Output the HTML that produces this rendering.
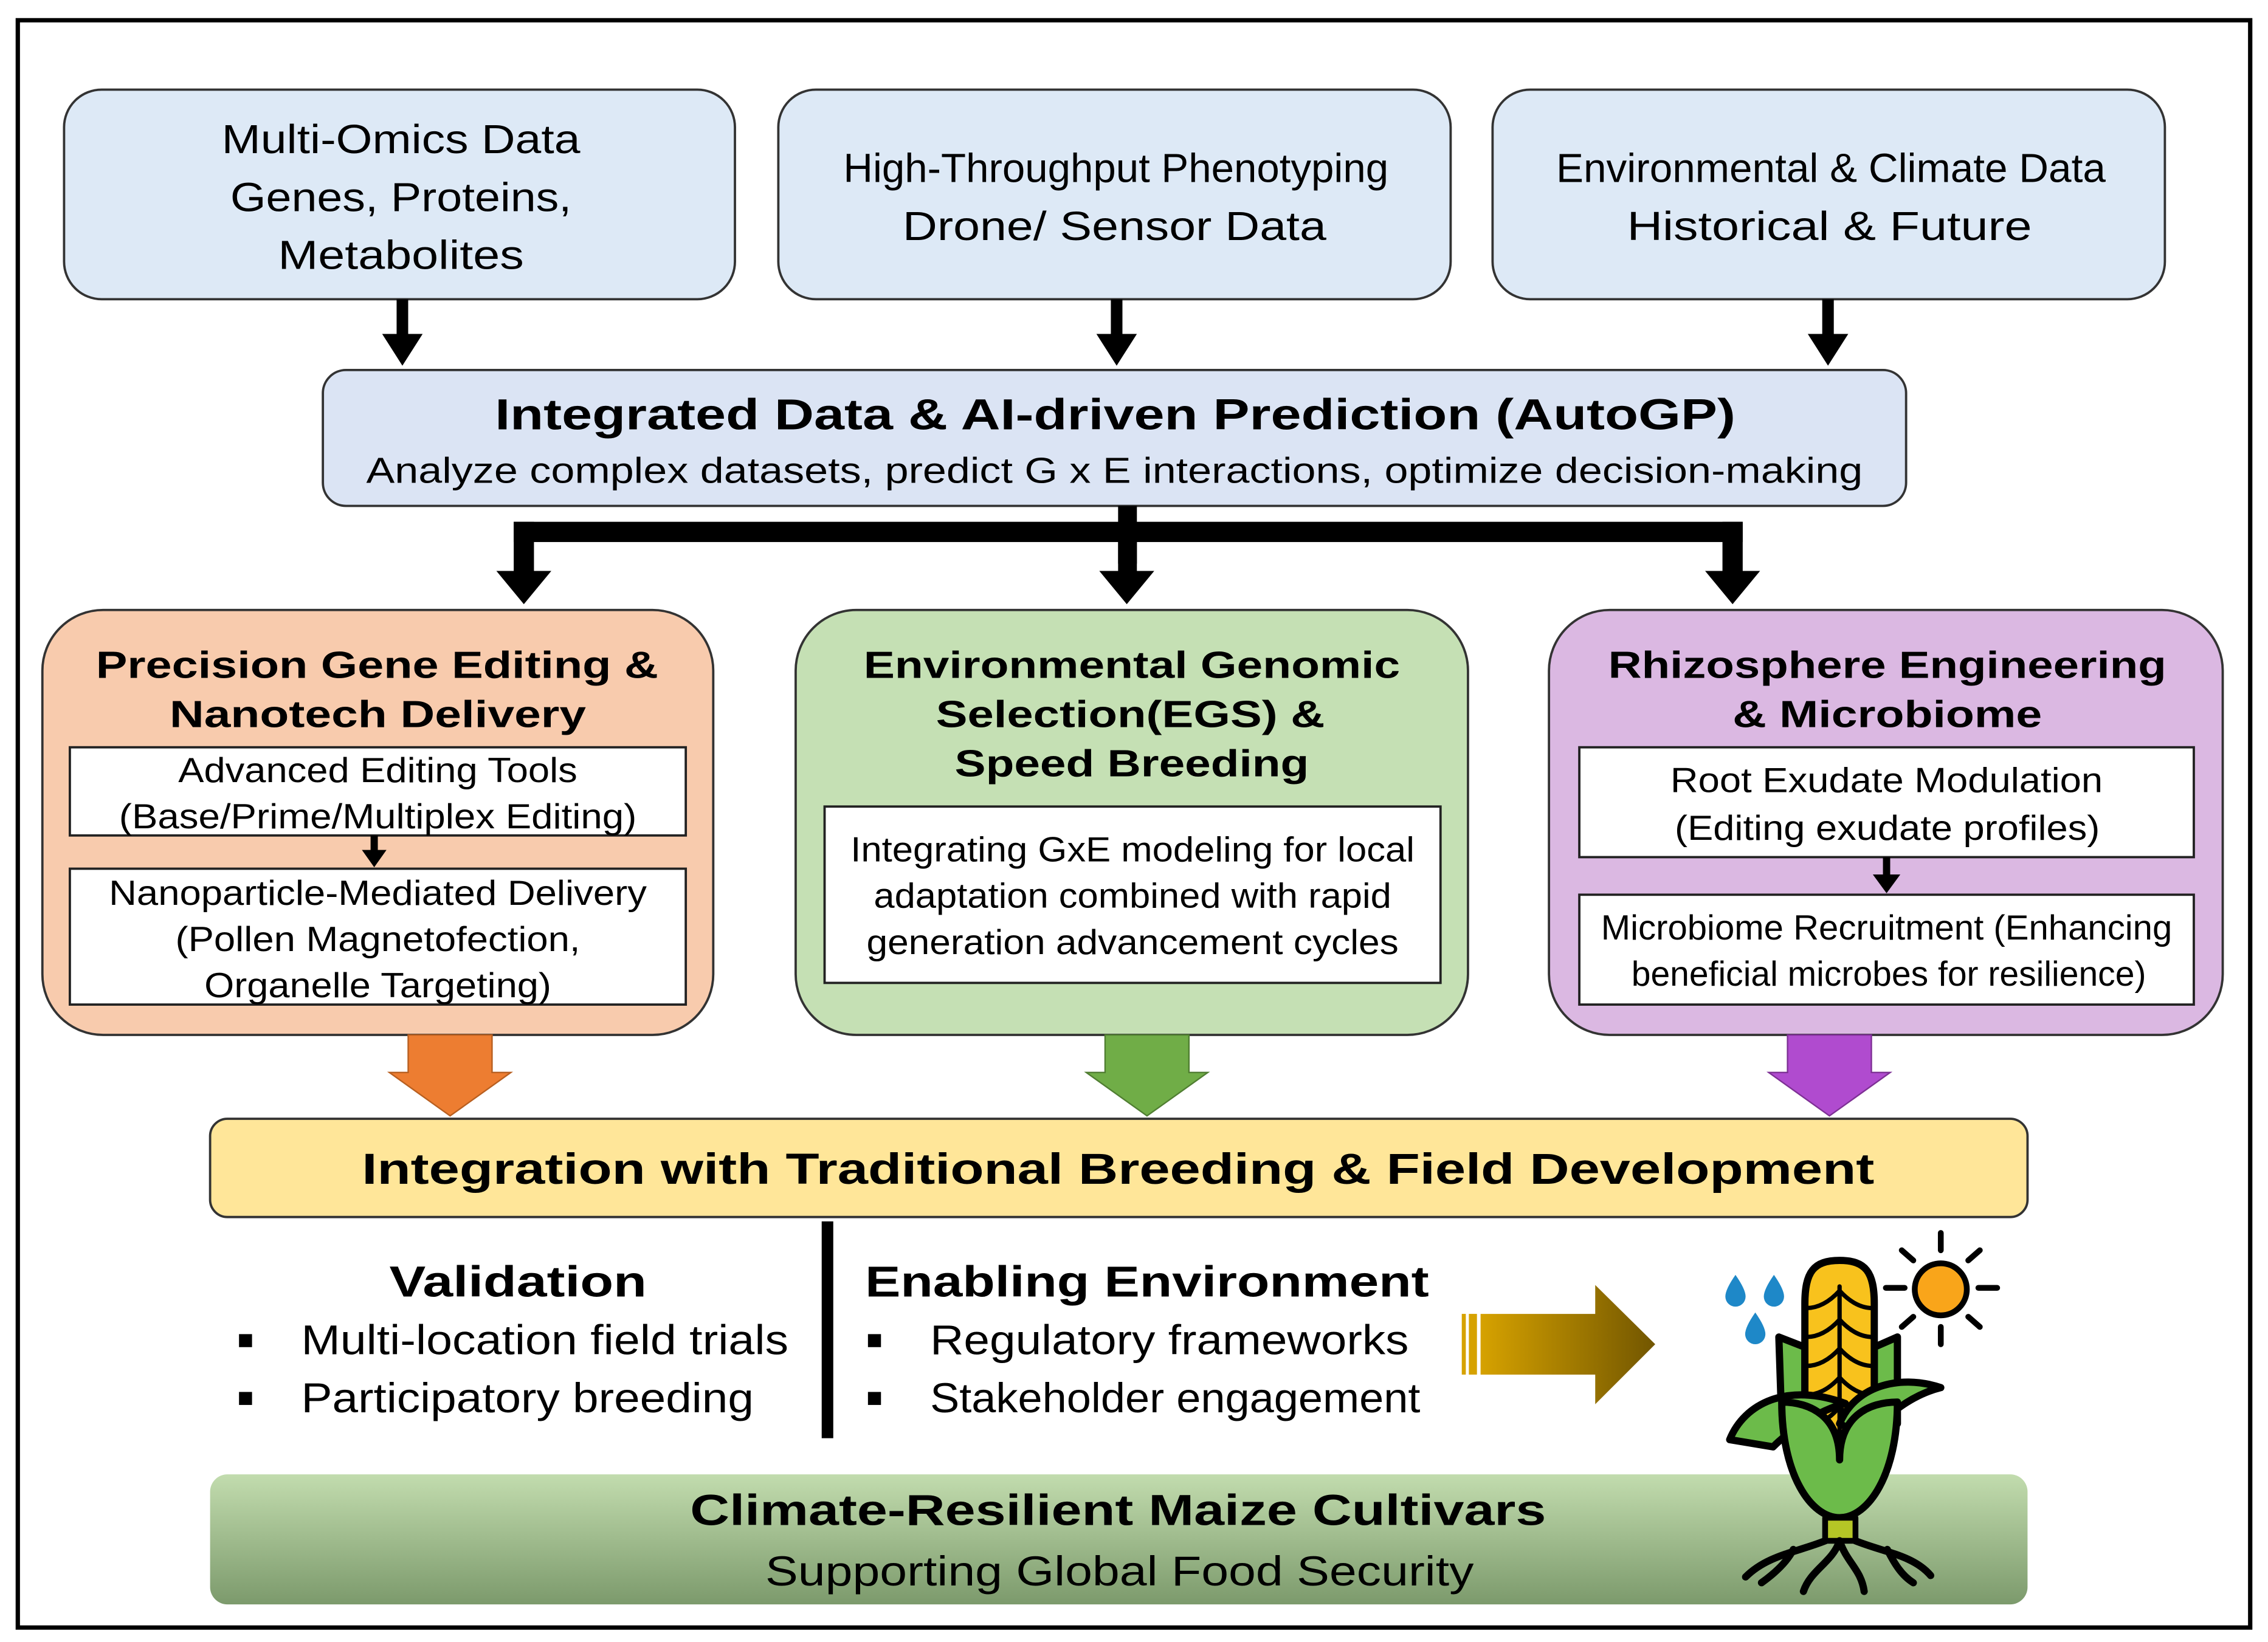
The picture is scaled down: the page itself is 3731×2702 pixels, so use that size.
<!DOCTYPE html>
<html><head><meta charset="utf-8"><style>html,body{margin:0;padding:0;background:#fff}svg{display:block}</style></head>
<body>
<svg xmlns="http://www.w3.org/2000/svg" width="3731" height="2702" viewBox="0 0 1568 1136" font-family="'Liberation Sans', sans-serif">
<defs>
<linearGradient id="gold" x1="0" x2="1" y1="0" y2="0"><stop offset="0" stop-color="#d6a200"/><stop offset="1" stop-color="#725600"/></linearGradient>
<linearGradient id="grn" x1="0" x2="0" y1="0" y2="1"><stop offset="0" stop-color="#c2dcae"/><stop offset="1" stop-color="#7c9a6c"/></linearGradient>
</defs>
<rect x="0" y="0" width="1568" height="1136" fill="#fff"/>
<rect x="12" y="14" width="1544" height="1112" fill="none" stroke="#000" stroke-width="3"/>

<!-- top boxes -->
<g fill="#dde9f6" stroke="#333" stroke-width="1.6">
<rect x="44" y="62" width="464" height="145" rx="26"/>
<rect x="538" y="62" width="465" height="145" rx="26"/>
<rect x="1032" y="62" width="465" height="145" rx="26"/>
</g>
<g font-size="28" fill="#000" text-anchor="start" lengthAdjust="spacingAndGlyphs">
<text x="153" y="106" textLength="248" lengthAdjust="spacingAndGlyphs">Multi-Omics Data</text>
<text x="159" y="146" textLength="236" lengthAdjust="spacingAndGlyphs">Genes, Proteins,</text>
<text x="192" y="186" textLength="170" lengthAdjust="spacingAndGlyphs">Metabolites</text>
<text x="583" y="126" textLength="377" lengthAdjust="spacingAndGlyphs">High-Throughput Phenotyping</text>
<text x="624" y="166" textLength="293" lengthAdjust="spacingAndGlyphs">Drone/ Sensor Data</text>
<text x="1076" y="126" textLength="380" lengthAdjust="spacingAndGlyphs">Environmental &amp; Climate Data</text>
<text x="1125" y="166" textLength="280" lengthAdjust="spacingAndGlyphs">Historical &amp; Future</text>
</g>

<!-- down arrows -->
<g fill="#000">
<path d="M274 207h8v24h10l-14 22l-14-22h10z"/>
<path d="M768 207h8v24h10l-14 22l-14-22h10z"/>
<path d="M1260 207h8v24h10l-14 22l-14-22h10z"/>
</g>

<!-- AutoGP -->
<rect x="223" y="256" width="1095" height="94" rx="16" fill="#dbe4f4" stroke="#333" stroke-width="1.6"/>
<text x="342" y="297" font-size="30" font-weight="bold" textLength="858" lengthAdjust="spacingAndGlyphs">Integrated Data &amp; AI-driven Prediction (AutoGP)</text>
<text x="253" y="334" font-size="25" textLength="1035" lengthAdjust="spacingAndGlyphs">Analyze complex datasets, predict G x E interactions, optimize decision-making</text>

<!-- distribution -->
<g fill="#000">
<rect x="773" y="350" width="13" height="40"/>
<rect x="355" y="361" width="850" height="14"/>
<path d="M355 361h14v34h12l-19 23l-19-23h12z"/>
<path d="M773 361h13v34h12l-19 23l-19-23h13z"/>
<path d="M1191 361h14v34h12l-19 23l-19-23h12z"/>
</g>

<!-- middle boxes -->
<rect x="29" y="422" width="464" height="294" rx="42" fill="#f8cbad" stroke="#333" stroke-width="1.6"/>
<rect x="550" y="422" width="465" height="294" rx="42" fill="#c5e0b4" stroke="#333" stroke-width="1.6"/>
<rect x="1071" y="422" width="466" height="294" rx="42" fill="#dbb8e2" stroke="#333" stroke-width="1.6"/>
<g fill="#fff" stroke="#222" stroke-width="1.6">
<rect x="48" y="517" width="426" height="61"/>
<rect x="48" y="601" width="426" height="94"/>
<rect x="570" y="558" width="426" height="122"/>
<rect x="1092" y="517" width="425" height="76"/>
<rect x="1092" y="619" width="425" height="76"/>
</g>
<g fill="#000">
<path d="M256 578h5v10h6l-8.5 12l-8.5-12h6z"/>
<path d="M1302 593h5v12h7l-9.5 13l-9.5-13h7z"/>
</g>
<g font-size="26" font-weight="bold">
<text x="66" y="469" textLength="389" lengthAdjust="spacingAndGlyphs">Precision Gene Editing &amp;</text>
<text x="117" y="503" textLength="288" lengthAdjust="spacingAndGlyphs">Nanotech Delivery</text>
<text x="597" y="469" textLength="371" lengthAdjust="spacingAndGlyphs">Environmental Genomic</text>
<text x="647" y="503" textLength="269" lengthAdjust="spacingAndGlyphs">Selection(EGS) &amp;</text>
<text x="660" y="537" textLength="245" lengthAdjust="spacingAndGlyphs">Speed Breeding</text>
<text x="1112" y="469" textLength="386" lengthAdjust="spacingAndGlyphs">Rhizosphere Engineering</text>
<text x="1198" y="503" textLength="214" lengthAdjust="spacingAndGlyphs">&amp; Microbiome</text>
</g>
<g font-size="24">
<text x="123" y="541" textLength="276" lengthAdjust="spacingAndGlyphs">Advanced Editing Tools</text>
<text x="82" y="573" textLength="358" lengthAdjust="spacingAndGlyphs">(Base/Prime/Multiplex Editing)</text>
<text x="75" y="626" textLength="372" lengthAdjust="spacingAndGlyphs">Nanoparticle-Mediated Delivery</text>
<text x="121" y="658" textLength="280" lengthAdjust="spacingAndGlyphs">(Pollen Magnetofection,</text>
<text x="141" y="690" textLength="240" lengthAdjust="spacingAndGlyphs">Organelle Targeting)</text>
<text x="588" y="596" textLength="390" lengthAdjust="spacingAndGlyphs">Integrating GxE modeling for local</text>
<text x="604" y="628" textLength="358" lengthAdjust="spacingAndGlyphs">adaptation combined with rapid</text>
<text x="599" y="660" textLength="368" lengthAdjust="spacingAndGlyphs">generation advancement cycles</text>
<text x="1155" y="548" textLength="299" lengthAdjust="spacingAndGlyphs">Root Exudate Modulation</text>
<text x="1158" y="581" textLength="294" lengthAdjust="spacingAndGlyphs">(Editing exudate profiles)</text>
<text x="1107" y="650" textLength="395" lengthAdjust="spacingAndGlyphs">Microbiome Recruitment (Enhancing</text>
<text x="1128" y="682" textLength="356" lengthAdjust="spacingAndGlyphs">beneficial microbes for resilience)</text>
</g>

<!-- fat arrows -->
<path d="M282 716h58v26h13l-42 30l-42-30h13z" fill="#ed7d31" stroke="#b85f20" stroke-width="1"/>
<path d="M764 716h58v26h13l-42 30l-42-30h13z" fill="#70ad47" stroke="#507e32" stroke-width="1"/>
<path d="M1236 716h58v26h13l-42 30l-42-30h13z" fill="#b04bcf" stroke="#7e3095" stroke-width="1"/>

<!-- yellow -->
<rect x="145" y="774" width="1257" height="68" rx="12" fill="#ffe699" stroke="#333" stroke-width="1.6"/>
<text x="250" y="819" font-size="30" font-weight="bold" textLength="1046" lengthAdjust="spacingAndGlyphs">Integration with Traditional Breeding &amp; Field Development</text>

<rect x="568" y="845" width="8" height="150" fill="#000"/>
<text x="269" y="897" font-size="30" font-weight="bold" textLength="178" lengthAdjust="spacingAndGlyphs">Validation</text>
<text x="598" y="897" font-size="30" font-weight="bold" textLength="390" lengthAdjust="spacingAndGlyphs">Enabling Environment</text>
<g fill="#000">
<rect x="165" y="923" width="9" height="9"/><rect x="165" y="963" width="9" height="9"/>
<rect x="600" y="923" width="9" height="9"/><rect x="600" y="963" width="9" height="9"/>
</g>
<g font-size="29">
<text x="208" y="937" textLength="337" lengthAdjust="spacingAndGlyphs">Multi-location field trials</text>
<text x="208" y="977" textLength="313" lengthAdjust="spacingAndGlyphs">Participatory breeding</text>
<text x="643" y="937" textLength="331" lengthAdjust="spacingAndGlyphs">Regulatory frameworks</text>
<text x="643" y="977" textLength="339" lengthAdjust="spacingAndGlyphs">Stakeholder engagement</text>
</g>

<!-- gold arrow -->
<g fill="url(#gold)">
<rect x="1010.7" y="909" width="2.8" height="42" fill="#d6a200"/>
<rect x="1015.6" y="909" width="5.6" height="42" fill="#d6a200"/>
<path d="M1023.7 909H1103V889L1144.5 930L1103 971.5V951H1023.7z"/>
</g>

<!-- bottom green -->
<rect x="145" y="1020" width="1257" height="90" rx="12" fill="url(#grn)"/>
<text x="477" y="1055" font-size="30" font-weight="bold" textLength="592" lengthAdjust="spacingAndGlyphs">Climate-Resilient Maize Cultivars</text>
<text x="529" y="1097" font-size="29" textLength="490" lengthAdjust="spacingAndGlyphs">Supporting Global Food Security</text>

<!-- maize icon -->
<g stroke="#000" stroke-linecap="round" stroke-linejoin="round">
<!-- drops -->
<g fill="#1e88c8" stroke="none">
<path d="M1200 882q-7 10-7 15a7 7 0 0 0 14 0q0-5-7-15z"/>
<path d="M1226.6 882q-7 10-7 15a7 7 0 0 0 14 0q0-5-7-15z"/>
<path d="M1213.7 908q-7 10-7 15a7 7 0 0 0 14 0q0-5-7-15z"/>
</g>
<!-- sun -->
<g stroke-width="4">
<line x1="1304" y1="891" x2="1317" y2="891"/><line x1="1368" y1="891" x2="1381" y2="891"/>
<line x1="1342" y1="853" x2="1342" y2="865"/><line x1="1342" y1="918" x2="1342" y2="930"/>
<line x1="1315" y1="865" x2="1323" y2="872"/><line x1="1361" y1="872" x2="1369" y2="865"/>
<line x1="1315" y1="918" x2="1323" y2="911"/><line x1="1361" y1="911" x2="1369" y2="918"/>
</g>
<circle cx="1342" cy="892" r="18" fill="#f9a51a" stroke-width="4"/>
<!-- husk side -->
<path d="M1230 925L1248 932V990L1232 985z" fill="#6cbb4a" stroke-width="5"/>
<path d="M1312 925L1296 932V990L1312 985z" fill="#6cbb4a" stroke-width="5"/>
<!-- ear -->
<path d="M1272 872c-18 0-24 8-24 30v60c0 25 10 45 24 60c14-15 24-35 24-60v-60c0-22-6-30-24-30z" fill="#f8c21d" stroke-width="5"/>
<line x1="1272" y1="890" x2="1272" y2="1015" stroke-width="3"/>
<g stroke-width="3" fill="none">
<path d="M1249 905q12 0 23 -12q11 12 23 12"/>
<path d="M1249 925q12 0 23 -12q11 12 23 12"/>
<path d="M1249 945q12 0 23 -12q11 12 23 12"/>
<path d="M1249 965q12 0 23 -12q11 12 23 12"/>
<path d="M1251 985q12 0 21 -12q9 12 21 12"/>
</g>
<!-- leaves -->
<path d="M1196 996c10-25 40-40 80-25c-20 5-40 20-50 30z" fill="#6cbb4a" stroke-width="5"/>
<path d="M1342 960c-30-10-60 0-70 25l20 10c10-15 30-30 50-35z" fill="#6cbb4a" stroke-width="5"/>
<path d="M1232 970c0 50 20 80 40 80c20 0 40-30 40-80c-20 0-40 10-40 40c0-30-20-40-40-40z" fill="#6cbb4a" stroke-width="5"/>
<!-- stem -->
<rect x="1262" y="1050" width="21" height="16" fill="#b5c626" stroke-width="4"/>
<!-- roots -->
<g fill="none" stroke-width="5">
<path d="M1262 1066c-20 8-40 10-55 25"/>
<path d="M1240 1072c-5 10-15 18-22 23"/>
<path d="M1272 1066c-5 15-20 20-25 35"/>
<path d="M1272 1066c5 15 15 20 17 35"/>
<path d="M1283 1066c20 8 40 10 52 24"/>
<path d="M1305 1072c5 10 10 18 18 23"/>
</g>
</g>
</svg>
</body></html>
